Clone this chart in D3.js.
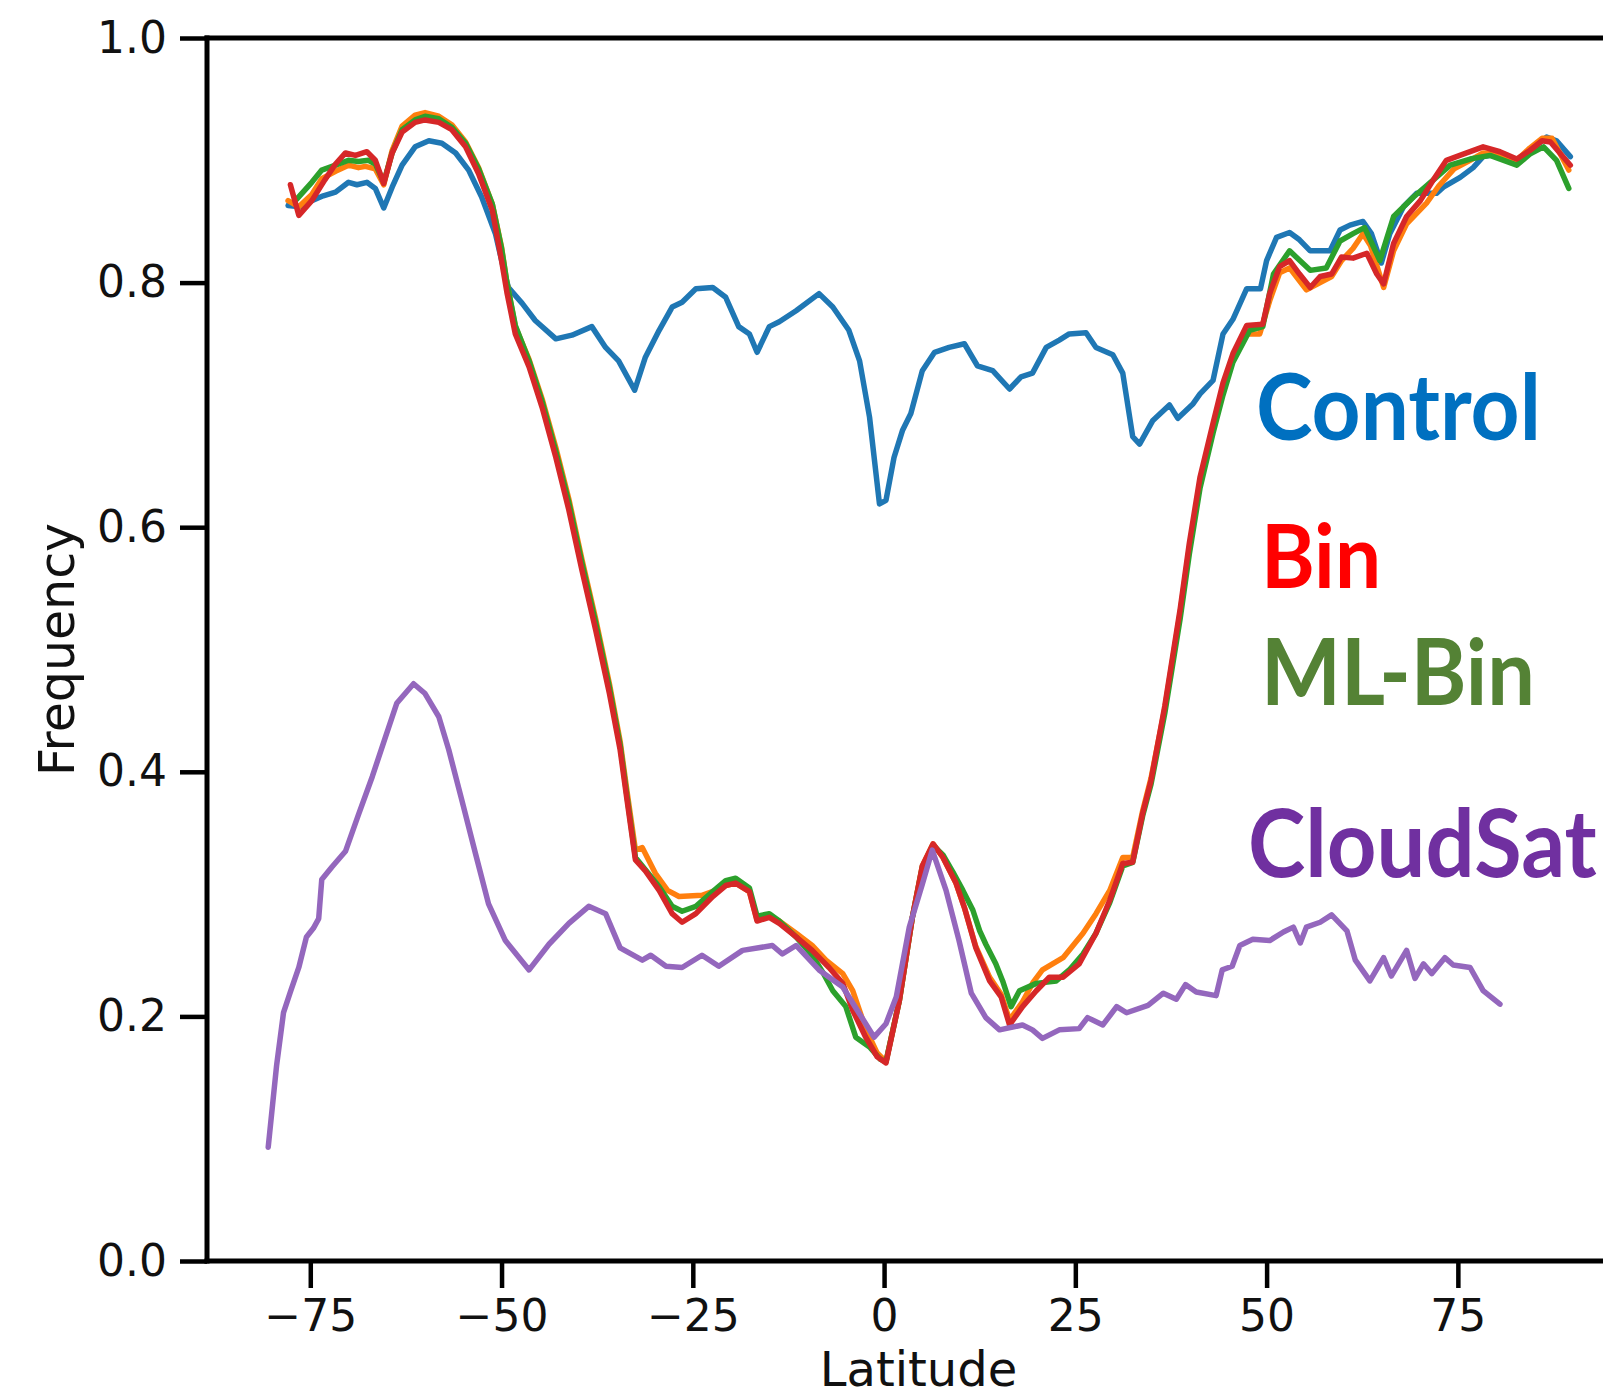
<!DOCTYPE html>
<html>
<head>
<meta charset="utf-8">
<script src="https://cdn.jsdelivr.net/npm/d3@7"></script>
<style>
  html, body { margin: 0; padding: 0; background: #fff; }
  svg { display: block; }
</style>
</head>
<body>
<svg id="chart" width="1603" height="1398"></svg>
<script>
// ---------------- DATA ----------------
const xTicks = [-75, -50, -25, 0, 25, 50, 75];
const xTickLabels = ["\u221275", "\u221250", "\u221225", "0", "25", "50", "75"];
const yTicks = [0.0, 0.2, 0.4, 0.6, 0.8, 1.0];
const yTickLabels = ["0.0", "0.2", "0.4", "0.6", "0.8", "1.0"];
const seriesNames = ["Control", "Other", "ML-Bin", "Bin", "CloudSat"];
const annotationTexts = ["Control", "Bin", "ML-Bin", "CloudSat"];

// [latitude, frequency]
const controlData = [
 [-77.9,0.863],[-76.3,0.862],[-74.8,0.867],[-73.3,0.871],[-71.7,0.874],[-70.0,0.882],[-68.9,0.880],
 [-67.6,0.882],[-66.5,0.877],[-65.4,0.861],[-64.3,0.878],[-63.0,0.896],[-61.3,0.911],[-59.5,0.916],
 [-57.8,0.914],[-56.0,0.906],[-54.3,0.892],[-52.6,0.870],[-50.8,0.840],[-49.5,0.805],[-49.1,0.796],
 [-47.3,0.783],[-45.6,0.769],[-42.9,0.754],[-40.8,0.757],[-38.2,0.764],[-36.4,0.747],[-34.7,0.736],
 [-32.6,0.712],[-31.2,0.739],[-29.4,0.761],[-27.7,0.780],[-26.4,0.784],[-24.6,0.795],[-22.4,0.796],
 [-20.7,0.788],[-19.0,0.764],[-17.6,0.758],[-16.6,0.743],[-15.0,0.764],[-13.7,0.768],[-11.5,0.777],
 [-8.5,0.791],[-6.7,0.780],[-4.6,0.761],[-3.2,0.736],[-1.9,0.690],[-0.6,0.619],[0.25,0.622],
 [1.3,0.657],[2.4,0.679],[3.5,0.693],[5.0,0.728],[6.6,0.743],[8.5,0.747],[10.5,0.750],[12.2,0.732],
 [14.2,0.728],[16.4,0.713],[17.9,0.723],[19.4,0.726],[21.2,0.747],[22.9,0.753],[24.2,0.758],
 [26.4,0.759],[27.7,0.747],[29.9,0.741],[31.2,0.726],[32.5,0.674],[33.4,0.668],[35.1,0.687],
 [37.3,0.700],[38.4,0.689],[40.4,0.701],[41.3,0.709],[43.0,0.720],[44.3,0.758],[45.6,0.770],
 [47.4,0.795],[49.2,0.795],[50.0,0.818],[51.3,0.837],[53.0,0.841],[54.3,0.835],[55.7,0.826],
 [58.3,0.826],[59.6,0.843],[60.9,0.847],[62.6,0.850],[63.7,0.840],[65.0,0.816],[66.1,0.840],
 [67.9,0.862],[69.6,0.873],[72.2,0.873],[73.1,0.878],[75.3,0.886],[77.0,0.894],[78.3,0.903],
 [80.1,0.905],[82.7,0.900],[84.4,0.908],[86.6,0.919],[87.9,0.916],[89.7,0.903]
];

const otherData = [
 [-77.9,0.867],[-76.5,0.862],[-74.8,0.872],[-73.5,0.885],[-71.7,0.891],[-70.0,0.896],[-68.7,0.894],
 [-67.8,0.895],[-66.5,0.893],[-65.4,0.880],[-64.3,0.908],[-63.0,0.928],[-61.3,0.937],[-60.0,0.939],
 [-58.2,0.936],[-56.5,0.929],[-54.7,0.915],[-53.0,0.894],[-51.2,0.864],[-50.0,0.829],[-49.3,0.800],
 [-48.2,0.764],[-46.4,0.737],[-44.7,0.705],[-42.9,0.665],[-41.2,0.623],[-39.5,0.574],[-37.7,0.525],
 [-35.9,0.472],[-34.5,0.425],[-33.6,0.384],[-32.5,0.336],[-31.6,0.338],[-29.9,0.317],[-28.3,0.303],
 [-26.8,0.298],[-23.8,0.299],[-22.0,0.303],[-20.7,0.307],[-19.4,0.309],[-17.6,0.302],[-16.6,0.279],
 [-15.0,0.282],[-13.7,0.278],[-11.5,0.268],[-9.4,0.258],[-7.6,0.246],[-5.4,0.235],[-4.1,0.221],
 [-2.4,0.190],[-0.9,0.170],[0.25,0.163],[2.0,0.213],[3.7,0.281],[5.0,0.323],[6.4,0.341],[7.7,0.330],
 [9.4,0.309],[10.5,0.289],[12.0,0.257],[13.8,0.232],[15.3,0.218],[16.4,0.197],[18.1,0.212],
 [19.5,0.228],[20.7,0.238],[23.4,0.248],[26.0,0.268],[27.7,0.284],[29.5,0.303],[31.2,0.330],
 [32.5,0.330],[33.8,0.368],[34.9,0.395],[36.7,0.452],[38.7,0.530],[39.9,0.583],[41.3,0.636],
 [43.0,0.680],[44.3,0.712],[45.6,0.737],[47.4,0.758],[49.1,0.758],[50.4,0.785],[51.7,0.808],
 [53.0,0.812],[55.2,0.794],[57.0,0.800],[58.5,0.805],[59.8,0.818],[61.3,0.828],[62.6,0.840],
 [63.6,0.830],[65.3,0.796],[66.6,0.826],[68.3,0.848],[70.9,0.865],[72.5,0.879],[74.5,0.893],
 [76.6,0.900],[78.3,0.906],[80.5,0.905],[82.7,0.900],[84.4,0.910],[86.0,0.918],[87.3,0.918],[89.5,0.892]
];

const mlBinData = [
 [-76.8,0.868],[-74.8,0.882],[-73.5,0.892],[-71.7,0.896],[-70.0,0.900],[-68.7,0.899],[-67.4,0.900],
 [-66.5,0.897],[-65.4,0.882],[-64.3,0.906],[-63.0,0.925],[-61.3,0.933],[-60.0,0.936],[-58.2,0.934],
 [-56.5,0.927],[-54.7,0.914],[-53.0,0.893],[-51.2,0.864],[-50.0,0.828],[-49.3,0.800],[-48.2,0.765],
 [-46.4,0.736],[-44.7,0.703],[-42.9,0.662],[-41.2,0.620],[-39.5,0.571],[-37.7,0.522],[-35.9,0.469],
 [-34.5,0.422],[-33.6,0.380],[-32.5,0.330],[-31.2,0.320],[-29.4,0.306],[-27.7,0.290],[-26.4,0.286],
 [-24.6,0.290],[-22.4,0.302],[-20.7,0.311],[-19.4,0.313],[-17.6,0.305],[-16.6,0.282],[-15.0,0.284],
 [-13.7,0.278],[-11.5,0.265],[-9.4,0.250],[-8.0,0.236],[-6.7,0.221],[-5.0,0.208],[-3.7,0.183],
 [-1.9,0.175],[-0.5,0.165],[0.25,0.163],[2.0,0.213],[3.7,0.281],[5.0,0.322],[6.4,0.340],[7.7,0.332],
 [9.0,0.318],[10.3,0.303],[11.6,0.287],[12.5,0.270],[13.3,0.259],[14.6,0.243],[15.5,0.229],
 [16.6,0.208],[17.7,0.221],[19.9,0.227],[22.5,0.229],[24.2,0.238],[26.0,0.251],[27.7,0.268],
 [29.5,0.293],[31.2,0.323],[32.5,0.326],[33.8,0.364],[34.9,0.390],[36.7,0.448],[38.7,0.525],
 [39.9,0.578],[41.3,0.632],[43.0,0.677],[44.3,0.708],[45.6,0.735],[47.8,0.761],[49.5,0.764],
 [50.9,0.807],[53.0,0.826],[55.7,0.810],[57.8,0.812],[59.6,0.834],[61.3,0.840],[62.8,0.845],
 [64.8,0.818],[66.6,0.854],[69.2,0.870],[71.8,0.884],[74.0,0.896],[76.6,0.901],[79.2,0.904],
 [82.7,0.896],[84.4,0.905],[86.2,0.911],[87.9,0.900],[89.5,0.877]
];

const binData = [
 [-77.6,0.880],[-76.5,0.855],[-74.8,0.867],[-73.1,0.884],[-71.7,0.897],[-70.4,0.906],[-69.1,0.904],
 [-67.6,0.907],[-66.5,0.900],[-65.4,0.881],[-64.3,0.906],[-63.0,0.923],[-61.3,0.931],[-60.0,0.933],
 [-58.2,0.931],[-56.5,0.925],[-54.7,0.911],[-53.0,0.889],[-51.2,0.859],[-50.0,0.818],[-49.3,0.792],
 [-48.2,0.758],[-46.4,0.731],[-44.7,0.698],[-42.9,0.657],[-41.2,0.614],[-39.5,0.565],[-37.7,0.516],
 [-35.9,0.464],[-34.5,0.418],[-33.6,0.377],[-32.5,0.328],[-31.2,0.319],[-29.4,0.303],[-27.7,0.284],
 [-26.4,0.277],[-24.6,0.284],[-22.4,0.298],[-20.7,0.307],[-19.4,0.309],[-17.6,0.302],[-16.6,0.278],
 [-15.0,0.281],[-13.7,0.276],[-11.5,0.265],[-9.4,0.254],[-7.2,0.240],[-5.4,0.227],[-4.1,0.205],
 [-2.4,0.183],[-0.9,0.167],[0.25,0.162],[2.0,0.213],[3.7,0.281],[5.0,0.323],[6.4,0.341],[7.7,0.330],
 [9.4,0.309],[10.5,0.289],[12.0,0.256],[13.8,0.229],[15.3,0.216],[16.4,0.193],[18.1,0.208],
 [19.9,0.221],[21.6,0.232],[23.4,0.232],[25.5,0.243],[27.7,0.268],[29.5,0.295],[31.2,0.325],
 [32.5,0.326],[33.8,0.366],[34.9,0.393],[36.7,0.454],[38.7,0.533],[39.9,0.587],[41.3,0.641],
 [43.0,0.685],[44.3,0.718],[45.6,0.742],[47.4,0.765],[49.5,0.766],[50.4,0.791],[51.7,0.813],
 [53.0,0.818],[54.3,0.807],[55.7,0.796],[57.0,0.805],[58.5,0.807],[59.8,0.821],[61.3,0.820],
 [63.1,0.824],[64.4,0.807],[65.3,0.799],[66.6,0.832],[68.3,0.854],[70.1,0.867],[71.8,0.884],
 [73.5,0.900],[75.7,0.905],[78.3,0.911],[80.5,0.907],[82.7,0.901],[84.4,0.908],[86.0,0.916],
 [87.1,0.915],[89.7,0.896]
];

const cloudSatData = [
 [-80.5,0.093],[-79.4,0.160],[-78.5,0.203],[-77.6,0.220],[-76.5,0.240],[-75.5,0.265],[-74.6,0.272],
 [-73.9,0.280],[-73.5,0.312],[-72.2,0.322],[-70.4,0.335],[-68.7,0.365],[-66.9,0.396],[-65.2,0.428],
 [-63.7,0.456],[-61.5,0.472],[-60.0,0.464],[-58.2,0.445],[-56.9,0.418],[-55.2,0.377],[-53.4,0.333],
 [-51.7,0.292],[-49.5,0.262],[-46.4,0.238],[-43.8,0.259],[-41.2,0.276],[-38.6,0.290],[-36.4,0.284],
 [-34.5,0.256],[-31.6,0.246],[-30.5,0.250],[-28.5,0.241],[-26.4,0.240],[-23.8,0.250],[-21.6,0.241],
 [-18.5,0.254],[-14.6,0.258],[-13.3,0.251],[-11.5,0.258],[-8.5,0.238],[-5.4,0.224],[-3.2,0.202],
 [-1.3,0.183],[0.25,0.194],[1.6,0.216],[3.3,0.273],[5.0,0.308],[6.3,0.336],[8.1,0.303],[9.8,0.262],
 [11.4,0.219],[13.3,0.199],[15.1,0.189],[18.1,0.193],[19.4,0.189],[20.7,0.182],[22.9,0.189],
 [25.5,0.190],[26.6,0.199],[28.6,0.193],[30.4,0.208],[31.7,0.203],[34.5,0.209],[36.5,0.219],
 [38.2,0.214],[39.4,0.226],[40.8,0.220],[43.4,0.217],[44.2,0.238],[45.5,0.241],[46.5,0.258],
 [48.2,0.263],[50.4,0.262],[52.2,0.269],[53.5,0.273],[54.4,0.260],[55.2,0.273],[57.0,0.277],
 [58.5,0.283],[60.5,0.270],[61.6,0.246],[63.5,0.229],[65.3,0.248],[66.3,0.233],[68.3,0.254],
 [69.4,0.231],[70.5,0.243],[71.6,0.235],[73.3,0.248],[74.4,0.242],[76.6,0.240],[78.3,0.221],[80.5,0.210]
];

// ---------------- DRAWING ----------------
const svg = d3.select("#chart");
const mLeft = 207, mRight = 1630, mTop = 38, mBottom = 1261;

const x = d3.scaleLinear().domain([-88.5, 97.5]).range([mLeft, mRight]);
const y = d3.scaleLinear().domain([0, 1]).range([mBottom, mTop]);

const series = [
  { name: seriesNames[0], data: controlData, color: "#1f77b4" },
  { name: seriesNames[1], data: otherData,   color: "#ff7f0e" },
  { name: seriesNames[2], data: mlBinData,   color: "#2ca02c" },
  { name: seriesNames[3], data: binData,     color: "#d62728" },
  { name: seriesNames[4], data: cloudSatData,color: "#9467bd" }
];

const line = d3.line().x(d => x(d[0])).y(d => y(d[1]));

const gLines = svg.append("g");
series.forEach(s => {
  gLines.append("path")
    .datum(s.data)
    .attr("d", line)
    .attr("fill", "none")
    .attr("stroke", s.color)
    .attr("stroke-width", 5.5)
    .attr("stroke-linejoin", "round")
    .attr("stroke-linecap", "round");
});

// axes
const tickFont = "'DejaVu Sans', sans-serif";
const xAxis = d3.axisBottom(x).tickValues(xTicks)
  .tickFormat((d, i) => xTickLabels[i]).tickSize(27).tickPadding(12);
const yAxis = d3.axisLeft(y).tickValues(yTicks)
  .tickFormat((d, i) => yTickLabels[i]).tickSize(27).tickPadding(13);

const gx = svg.append("g").attr("transform", `translate(0,${mBottom})`).call(xAxis);
const gy = svg.append("g").attr("transform", `translate(${mLeft},0)`).call(yAxis);
[gx, gy].forEach(g => {
  g.select(".domain").remove();
  g.selectAll(".tick line").attr("stroke", "#000").attr("stroke-width", 4.5);
  g.selectAll(".tick text").attr("fill", "#111")
    .style("font-family", tickFont).style("font-size", "44px");
});

// spines
const spine = svg.append("g").attr("stroke", "#000").attr("stroke-width", 5).attr("fill", "none");
spine.append("line").attr("x1", mLeft).attr("x2", mLeft).attr("y1", mTop - 2.5).attr("y2", mBottom + 2.5);
spine.append("line").attr("x1", mLeft - 2.5).attr("x2", mRight).attr("y1", mTop).attr("y2", mTop);
spine.append("line").attr("x1", mLeft - 2.5).attr("x2", mRight).attr("y1", mBottom).attr("y2", mBottom);
spine.append("line").attr("x1", mRight).attr("x2", mRight).attr("y1", mTop).attr("y2", mBottom);

// axis labels
svg.append("text").text("Latitude")
  .attr("x", (mLeft + mRight) / 2).attr("y", 1386)
  .attr("text-anchor", "middle").attr("fill", "#111")
  .style("font-family", tickFont).style("font-size", "48px");
svg.append("text").text("Frequency")
  .attr("transform", `translate(74,${(mTop + mBottom) / 2}) rotate(-90)`)
  .attr("text-anchor", "middle").attr("fill", "#111")
  .style("font-family", tickFont).style("font-size", "49px");

// annotations
const annoLayout = [
  { x: 1256, y: 440, w: 285, color: "#0070C0" },
  { x: 1261, y: 588, w: 120, color: "#FF0000" },
  { x: 1261, y: 705, w: 274, color: "#548235" },
  { x: 1248, y: 877, w: 349, color: "#7030A0" }
];
annotationTexts.forEach((t, i) => {
  const L = annoLayout[i];
  const el = svg.append("text").text(t)
    .attr("x", 0).attr("y", 0).attr("fill", L.color)
    .style("font-family", "Lato, 'Open Sans', sans-serif")
    .style("font-weight", "bold").style("font-size", "80px");
  const w = el.node().getComputedTextLength();
  const fs = 80 * L.w / w;
  el.style("font-size", fs.toFixed(1) + "px")
    .attr("transform", `translate(${L.x},${L.y}) scale(1,1.08)`);
});
</script>
</body>
</html>
